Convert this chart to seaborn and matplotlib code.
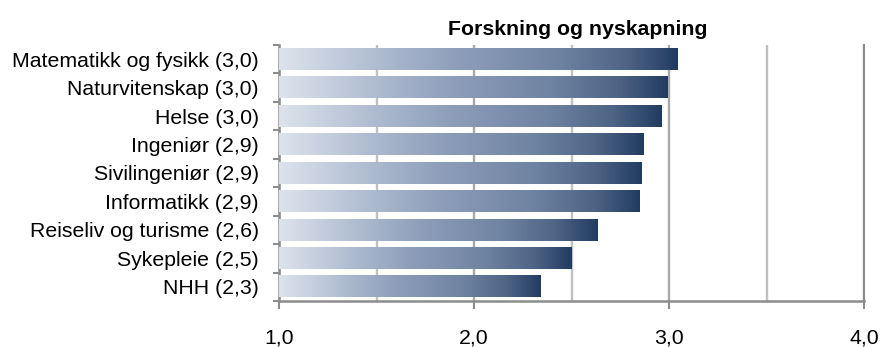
import numpy as np
import pandas as pd
import matplotlib
matplotlib.use("Agg")
import matplotlib.pyplot as plt
from matplotlib.colors import LinearSegmentedColormap
from matplotlib.ticker import FixedLocator, MultipleLocator
import seaborn as sns

# Average score per study field
fields = [
    "Matematikk og fysikk",
    "Naturvitenskap",
    "Helse",
    "Ingeniør",
    "Sivilingeniør",
    "Informatikk",
    "Reiseliv og turisme",
    "Sykepleie",
    "NHH",
]
scores = [3.04, 2.99, 2.96, 2.87, 2.86, 2.85, 2.63, 2.50, 2.34]
x_ticks = [1.0, 2.0, 3.0, 4.0]
x_tick_labels = ["1,0", "2,0", "3,0", "4,0"]
title = "Forskning og nyskapning"

labels = [f"{f} ({s:.1f})".replace(".", ",") for f, s in zip(fields, scores)]
df = pd.DataFrame({"label": labels, "score": scores})

sns.set_theme(style="white")
plt.rcParams["font.family"] = ["Liberation Sans", "DejaVu Sans"]

FS = 15.3

fig, ax = plt.subplots(figsize=(8.82, 3.47), dpi=100)
fig.subplots_adjust(left=0.3163, right=0.980, top=0.8703, bottom=0.1326)

sns.barplot(data=df, x="score", y="label", orient="h", width=0.75,
            color="#7589a8", ax=ax, zorder=2)

xmin, xmax = 1.0, 4.0
ylim = ax.get_ylim()

# light-to-dark gradient fill along each bar
grad_cmap = LinearSegmentedColormap.from_list(
    "bar_grad",
    [(0.0, "#dde3ec"), (0.25, "#aebbd0"), (0.45, "#8d9eba"),
     (0.7, "#6f83a2"), (0.87, "#4f6586"), (1.0, "#223c61")],
)
gradient = np.linspace(0, 1, 256).reshape(1, -1)
for patch in ax.patches:
    x0 = max(patch.get_x(), xmin)
    x1 = patch.get_x() + patch.get_width()
    y0 = patch.get_y()
    y1 = y0 + patch.get_height()
    ax.imshow(gradient, extent=(x0, x1, y1, y0), aspect="auto",
              cmap=grad_cmap, interpolation="bilinear", zorder=3)
    patch.set_facecolor("none")
    patch.set_edgecolor("none")

ax.set_xlim(xmin, xmax)
ax.set_ylim(ylim)
ax.set_xlabel("")
ax.set_ylabel("")

# x axis: labelled ticks on whole numbers, gridlines every half step
ax.xaxis.set_major_locator(FixedLocator(x_ticks))
ax.set_xticklabels(x_tick_labels)
ax.xaxis.set_minor_locator(MultipleLocator(0.5))
ax.grid(axis="x", which="major", color="#a8a8a8", lw=1.7, zorder=0)
ax.grid(axis="x", which="minor", color="#c0c0c0", lw=1.7, zorder=0)
ax.grid(axis="y", visible=False)
ax.set_axisbelow(True)

ax.tick_params(axis="x", which="major", direction="out", length=5.8,
               width=1.5, color="#8c8c8c", pad=14, labelsize=FS,
               labelcolor="#000000", bottom=True)
ax.tick_params(axis="x", which="minor", length=0)

# y axis: category separators as small outward ticks
n = len(fields)
ax.yaxis.set_minor_locator(FixedLocator(np.arange(-0.5, n, 1.0)))
ax.tick_params(axis="y", which="major", length=0, pad=14.5,
               labelsize=FS, labelcolor="#000000")
ax.tick_params(axis="y", which="minor", direction="out", length=4.3,
               width=1.5, color="#8c8c8c", left=True)

ax.spines["top"].set_visible(False)
for side in ("left", "bottom", "right"):
    ax.spines[side].set_visible(True)
    ax.spines[side].set_color("#8c8c8c")
    ax.spines[side].set_linewidth(1.8)
ax.spines["right"].set_linewidth(1.5)

fig.text(578 / 882, 1 - 35 / 347, title, ha="center", va="baseline",
         fontsize=FS, fontweight="bold", color="#000000")

fig.savefig("out.png", dpi=100, facecolor="white")
